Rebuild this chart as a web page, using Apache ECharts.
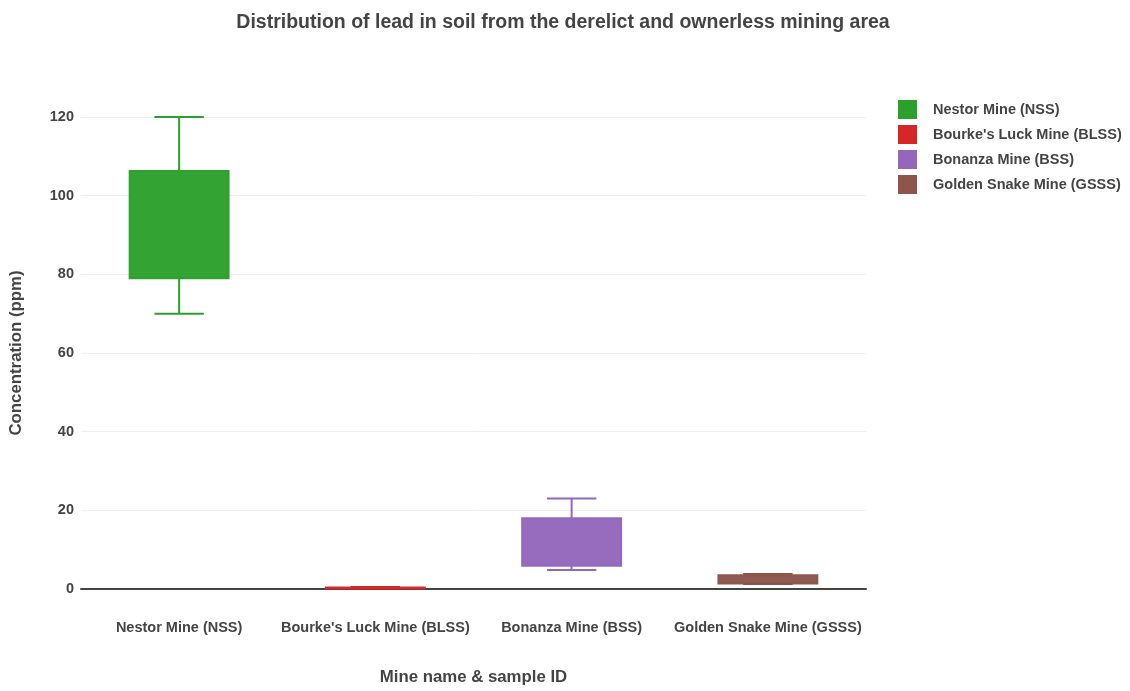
<!DOCTYPE html>
<html>
<head>
<meta charset="utf-8">
<script src="https://cdn.jsdelivr.net/npm/echarts@6/dist/echarts.min.js"></script>
<style>
  html, body { margin: 0; padding: 0; background: #fff; }
  #chart { width: 1130px; height: 691px; }
</style>
</head>
<body>
<div id="chart"></div>
<script>
const mines = ['Nestor Mine (NSS)', "Bourke's Luck Mine (BLSS)", 'Bonanza Mine (BSS)', 'Golden Snake Mine (GSSS)']
const colors = ['#2ca02c', '#d62728', '#9467bd', '#8c564b']
// [min, q1, median, q3, max] per mine
const nestor = [70, 79, 92, 106.3, 120]
const bourke = [0.1, 0.2, 0.3, 0.4, 0.5]
const bonanza = [4.8, 5.9, 10, 18, 23]
const goldenSnake = [1.3, 1.4, 2.5, 3.5, 3.8]
const stats = [nestor, bourke, bonanza, goldenSnake]
const yTicks = [0, 20, 40, 60, 80, 100, 120]

const font = 'Liberation Sans, Arial, sans-serif'

function renderBox(params, api) {
  const x = api.value(0)
  const band = api.size([1, 0])[0]
  const half = band * 0.252
  const cap = half / 2
  const pMin = api.coord([x, api.value(1)])
  const pQ1 = api.coord([x, api.value(2)])
  const pMed = api.coord([x, api.value(3)])
  const pQ3 = api.coord([x, api.value(4)])
  const pMax = api.coord([x, api.value(5)])
  const color = api.visual('color')
  const cx = pMin[0]
  const line = { stroke: color, lineWidth: 2 }
  return {
    type: 'group',
    children: [
      { type: 'line', shape: { x1: cx, y1: pQ3[1], x2: cx, y2: pMax[1] }, style: line },
      { type: 'line', shape: { x1: cx, y1: pQ1[1], x2: cx, y2: pMin[1] }, style: line },
      { type: 'line', shape: { x1: cx - cap, y1: pMax[1], x2: cx + cap, y2: pMax[1] }, style: line },
      { type: 'line', shape: { x1: cx - cap, y1: pMin[1], x2: cx + cap, y2: pMin[1] }, style: line },
      {
        type: 'rect',
        shape: { x: cx - half, y: pQ3[1], width: half * 2, height: Math.max(pQ1[1] - pQ3[1], 1) },
        style: { fill: color, opacity: 0.97, stroke: color, lineWidth: 2 }
      },
      // median drawn in the fill colour, as in the reference it does not stand out
      { type: 'line', shape: { x1: cx - half, y1: pMed[1], x2: cx + half, y2: pMed[1] }, style: { stroke: color, lineWidth: 0 } }
    ]
  }
}

const chart = echarts.init(document.getElementById('chart'))
chart.setOption({
  animation: false,
  title: {
    text: 'Distribution of lead in soil from the derelict and ownerless mining area',
    left: 558, top: 8, textAlign: 'center',
    textStyle: { fontFamily: font, fontSize: 19.5, fontWeight: 'bold', color: '#444' }
  },
  legend: {
    orient: 'vertical', left: 893, top: 95,
    icon: 'rect', itemWidth: 19, itemHeight: 19, itemGap: 6,
    data: mines,
    textStyle: { fontFamily: font, fontSize: 14.5, fontWeight: 'bold', color: '#444', padding: [0, 0, 0, 11] }
  },
  grid: { left: 80, right: 264, top: 117, bottom: 102 },
  xAxis: {
    type: 'category',
    data: mines,
    name: 'Mine name & sample ID',
    nameLocation: 'middle', nameGap: 80,
    nameTextStyle: { fontFamily: font, fontSize: 16.8, fontWeight: 'bold', color: '#444' },
    axisTick: { show: false },
    axisLine: { lineStyle: { color: '#444', width: 2 } },
    axisLabel: { interval: 0, fontFamily: font, fontSize: 14.5, fontWeight: 'bold', color: '#444', margin: 31 }
  },
  yAxis: {
    type: 'value', min: yTicks[0], max: yTicks[yTicks.length - 1], interval: 20,
    name: 'Concentration (ppm)',
    nameLocation: 'middle', nameGap: 56,
    nameTextStyle: { fontFamily: font, fontSize: 16.8, fontWeight: 'bold', color: '#444' },
    axisLine: { show: false },
    axisTick: { show: false },
    axisLabel: { fontFamily: font, fontSize: 14.5, fontWeight: 'bold', color: '#444', margin: 7 },
    splitLine: { lineStyle: { color: '#eee', width: 1 } }
  },
  series: mines.map((name, i) => ({
    name,
    type: 'custom',
    renderItem: renderBox,
    itemStyle: { color: colors[i] },
    clip: false,
    encode: { x: 0, y: [1, 2, 3, 4, 5] },
    data: [[i].concat(stats[i])]
  }))
})
</script>
</body>
</html>
